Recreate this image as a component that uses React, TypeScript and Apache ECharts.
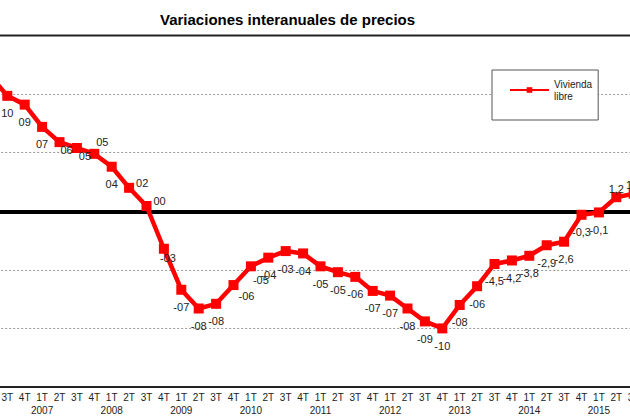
import React, { useEffect, useRef } from 'react';
import * as echarts from 'echarts';

const titleText = 'Variaciones interanuales de precios';
const seriesName = 'Vivienda libre';

const quarters = [
  '2T', '3T', '4T',
  '1T', '2T', '3T', '4T',
  '1T', '2T', '3T', '4T',
  '1T', '2T', '3T', '4T',
  '1T', '2T', '3T', '4T',
  '1T', '2T', '3T', '4T',
  '1T', '2T', '3T', '4T',
  '1T', '2T', '3T', '4T',
  '1T', '2T', '3T', '4T',
  '1T', '2T', '3T',
];

const years = [
  '2006', '2006', '2006',
  '2007', '2007', '2007', '2007',
  '2008', '2008', '2008', '2008',
  '2009', '2009', '2009', '2009',
  '2010', '2010', '2010', '2010',
  '2011', '2011', '2011', '2011',
  '2012', '2012', '2012', '2012',
  '2013', '2013', '2013', '2013',
  '2014', '2014', '2014', '2014',
  '2015', '2015', '2015',
];

const values = [
  11.6, 9.85, 9.1,
  7.2, 5.9, 5.4, 4.9,
  3.8, 2.0, 0.45, -3.2,
  -6.7, -8.3, -7.9, -6.3,
  -4.7, -3.96, -3.4, -3.6,
  -4.7, -5.2, -5.6, -6.8,
  -7.2, -8.3, -9.4, -10.0,
  -8.0, -6.4, -4.5, -4.2,
  -3.8, -2.9, -2.6, -0.3,
  -0.1, 1.2, 1.5,
];

// from this index on, labels are shown with one decimal
const decimalFrom = 29;

const FONT = '"Liberation Sans", Arial, sans-serif';

// the chart is wider than the visible window and shifted left (the reference is a crop)
const SHIFT = 19;

const labelOverrides: Record<number, any> = {
  0: { show: false },
  4: { position: 'bottom', offset: [7, -10] },
  5: { position: 'bottom', offset: [8, -9] },
  6: { position: 'top', offset: [8, 6] },
  8: { position: 'right', distance: 2, offset: [0, -5] },
  9: { position: 'right', distance: 2, offset: [0, -5] },
  10: { position: 'bottom', offset: [4, -8] },
  14: { position: 'bottom', offset: [13, -7] },
  15: { position: 'bottom', offset: [10, -4] },
  36: { position: 'top', distance: 1, offset: [0, 3] },
  37: { position: 'top', distance: 1, offset: [0, 3] },
};

function fmt(v: number, i: number): string {
  if (i >= decimalFrom) {
    return v.toFixed(1).replace('.', ',');
  }
  const r = Math.round(v);
  const s = String(Math.abs(r)).padStart(2, '0');
  return (r < 0 ? '-' : '') + s;
}

export default function App() {
  const ref = useRef<HTMLDivElement>(null);
  useEffect(() => {
    if (!ref.current) return;
    const chart = echarts.init(ref.current, undefined, { renderer: 'svg' });
    const data = values.map((v, i) => {
      const o = labelOverrides[i];
      return o ? { value: v, label: o } : v;
    });
    chart.setOption({
      animation: false,
      backgroundColor: '#fff',
      title: {
        text: titleText,
        left: 160 + SHIFT,
        top: 12,
        padding: 0,
        textStyle: { fontFamily: FONT, fontSize: 15, fontWeight: 'bold', color: '#000' },
      },
      legend: {
        left: 492 + SHIFT,
        top: 70,
        orient: 'vertical',
        padding: [2, 6, 12, 17],
        backgroundColor: '#fff',
        borderColor: '#555',
        borderWidth: 1,
        itemWidth: 39,
        itemHeight: 7,
        itemGap: 0,
        formatter: (n: string) => n.replace(' ', '\n'),
        textStyle: { fontFamily: FONT, fontSize: 10, lineHeight: 12, color: '#222', padding: [12, 0, 0, 0] },
        lineStyle: { width: 2 },
      },
      grid: {
        left: 0.2,
        right: 0.6,
        top: 35.5,
        bottom: 33,
        show: true,
        borderColor: '#222',
        borderWidth: 2,
        backgroundColor: 'transparent',
      },
      xAxis: [
        {
          type: 'category',
          data: quarters,
          axisLine: { onZero: true, lineStyle: { color: '#000', width: 4 } },
          axisTick: { show: false },
          axisLabel: { show: false },
        },
        {
          type: 'category',
          data: quarters,
          position: 'bottom',
          axisLine: { onZero: false, lineStyle: { color: '#222', width: 2 } },
          axisTick: { show: false },
          axisLabel: { interval: 0, margin: 5, fontFamily: FONT, fontSize: 10, color: '#222' },
        },
        {
          type: 'category',
          data: quarters,
          position: 'bottom',
          offset: 13,
          axisLine: { show: false, onZero: false },
          axisTick: { show: false },
          axisLabel: {
            interval: 0,
            margin: 5,
            fontFamily: FONT,
            fontSize: 10,
            color: '#222',
            formatter: (_v: string, i: number) => (quarters[i] === '1T' ? years[i] : ''),
          },
        },
      ],
      yAxis: {
        type: 'value',
        min: -15,
        max: 15,
        interval: 5,
        axisLine: { show: false },
        axisTick: { show: false },
        axisLabel: { show: false },
        splitLine: {
          showMinLine: false,
          showMaxLine: false,
          lineStyle: { color: '#999', type: [2, 2], width: 1 },
        },
      },
      series: [
        {
          name: seriesName,
          type: 'line',
          xAxisIndex: 1,
          data,
          z: 5,
          symbol: 'rect',
          symbolSize: 10,
          lineStyle: { color: '#ff0000', width: 4.5 },
          itemStyle: { color: '#ff0000' },
          label: {
            show: true,
            position: 'bottom',
            distance: 7,
            fontFamily: FONT,
            fontSize: 11,
            color: '#222',
            formatter: (p: any) => fmt(values[p.dataIndex], p.dataIndex),
          },
        },
      ],
    });
    return () => chart.dispose();
  }, []);
  return (
    <div style={{ position: 'fixed', left: 0, top: 0, width: 630, height: 420, overflow: 'hidden', background: '#fff' }}>
      <div ref={ref} style={{ position: 'absolute', left: -SHIFT, top: 0, width: 662, height: 420 }} />
    </div>
  );
}
